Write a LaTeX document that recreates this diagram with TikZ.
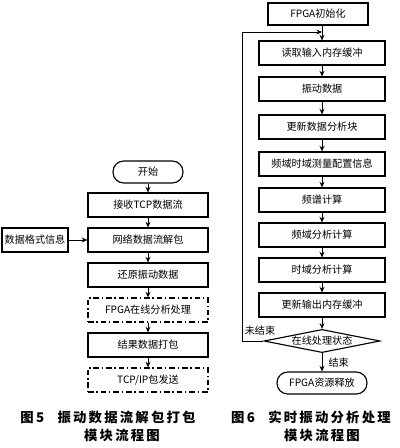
\documentclass[tikz,border=0pt]{standalone}
\usepackage{fontspec}
\newfontfamily\cjk{Noto Sans CJK SC}
\usepackage{tikz}
\usetikzlibrary{shapes.geometric,arrows.meta}

\begin{document}
\begin{tikzpicture}[x=0.025cm,y=-0.025cm,font=\cjk\fontsize{7.2}{8}\selectfont,
    >={Stealth[length=4pt,width=3.5pt]},
    box/.style={draw,line width=0.8pt,minimum height=0.6cm,inner sep=1pt},
    boxL/.style={box,minimum width=3cm},
    boxR/.style={box,minimum width=3.15cm},
    dashbox/.style={boxL,dash pattern=on 4pt off 2pt on 1pt off 2pt},
    term/.style={draw,line width=0.8pt,rounded corners=0.27cm,minimum height=0.55cm},
    arr/.style={->,line width=0.6pt},
    captxt/.style={font=\cjk\bfseries\fontsize{9.5}{11}\selectfont}]
  \useasboundingbox (0,0) rectangle (400,448);

  % Figure 5
  \node[term,minimum width=1.75cm] (start) at (148,172) {开始};
  \node[boxL] (recv) at (148,205) {接收TCP数据流};
  \node[boxL] (unpack) at (148,240) {网络数据流解包};
  \node[box,minimum width=1.65cm] (fmt) at (35,240) {数据格式信息};
  \node[boxL] (restore) at (148,275) {还原振动数据};
  \node[dashbox] (fpga) at (148,310) {FPGA在线分析处理};
  \node[boxL] (pack) at (148,345) {结果数据打包};
  \node[dashbox] (send) at (148,380) {TCP/IP包发送};
  \draw[arr] (start) -- (recv);
  \draw[arr] (recv) -- (unpack);
  \draw[arr] (fmt) -- (unpack);
  \draw[arr] (unpack) -- (restore);
  \draw[arr] (restore) -- (fpga);
  \draw[arr] (fpga) -- (pack);
  \draw[arr] (pack) -- (send);
  \node[captxt] (cap5a) at (108,417) {图\,5\quad 振\,动\,数\,据\,流\,解\,包\,打\,包};
  \node[captxt] (cap5b) at (122,435) {模\,块\,流\,程\,图};

  % Figure 6
  \node[box,minimum width=2.5cm,minimum height=0.55cm] (init) at (318,14) {FPGA初始化};
  \node[boxR] (read) at (322,53) {读取输入内存缓冲};
  \node[boxR] (vib) at (322,89) {振动数据};
  \node[boxR] (upd) at (322,127) {更新数据分析块};
  \node[boxR] (cfg) at (322,164) {频域时域测量配置信息};
  \node[boxR] (spec) at (322,200) {频谱计算};
  \node[boxR] (freq) at (322,235) {频域分析计算};
  \node[boxR] (time) at (322,270) {时域分析计算};
  \node[boxR] (out) at (322,305) {更新输出内存缓冲};
  \node[diamond,draw,line width=0.8pt,aspect=5,inner sep=0.5pt] (state) at (322,341) {在线处理状态};
  \node[term,minimum width=2.25cm] (rel) at (322,383) {FPGA资源释放};
  \coordinate (join) at (322,32);
  \draw[arr] (init.south -| join) -- (read);
  \foreach \a/\b in {read/vib,vib/upd,upd/cfg,cfg/spec,spec/freq,freq/time,time/out,out/state}
    \draw[arr] (\a) -- (\b);
  \draw[arr] (state) -- node[right=1pt] (endlbl) {结束} (rel);
  \draw[arr] (state.west) -- (242,341) |- (join);
  \node (notend) at (260,331) {未结束};
  \node[captxt] (cap6a) at (311,417) {图\,6\quad 实\,时\,振\,动\,分\,析\,处\,理};
  \node[captxt] (cap6b) at (322,435) {模\,块\,流\,程\,图};
\end{tikzpicture}
\end{document}
